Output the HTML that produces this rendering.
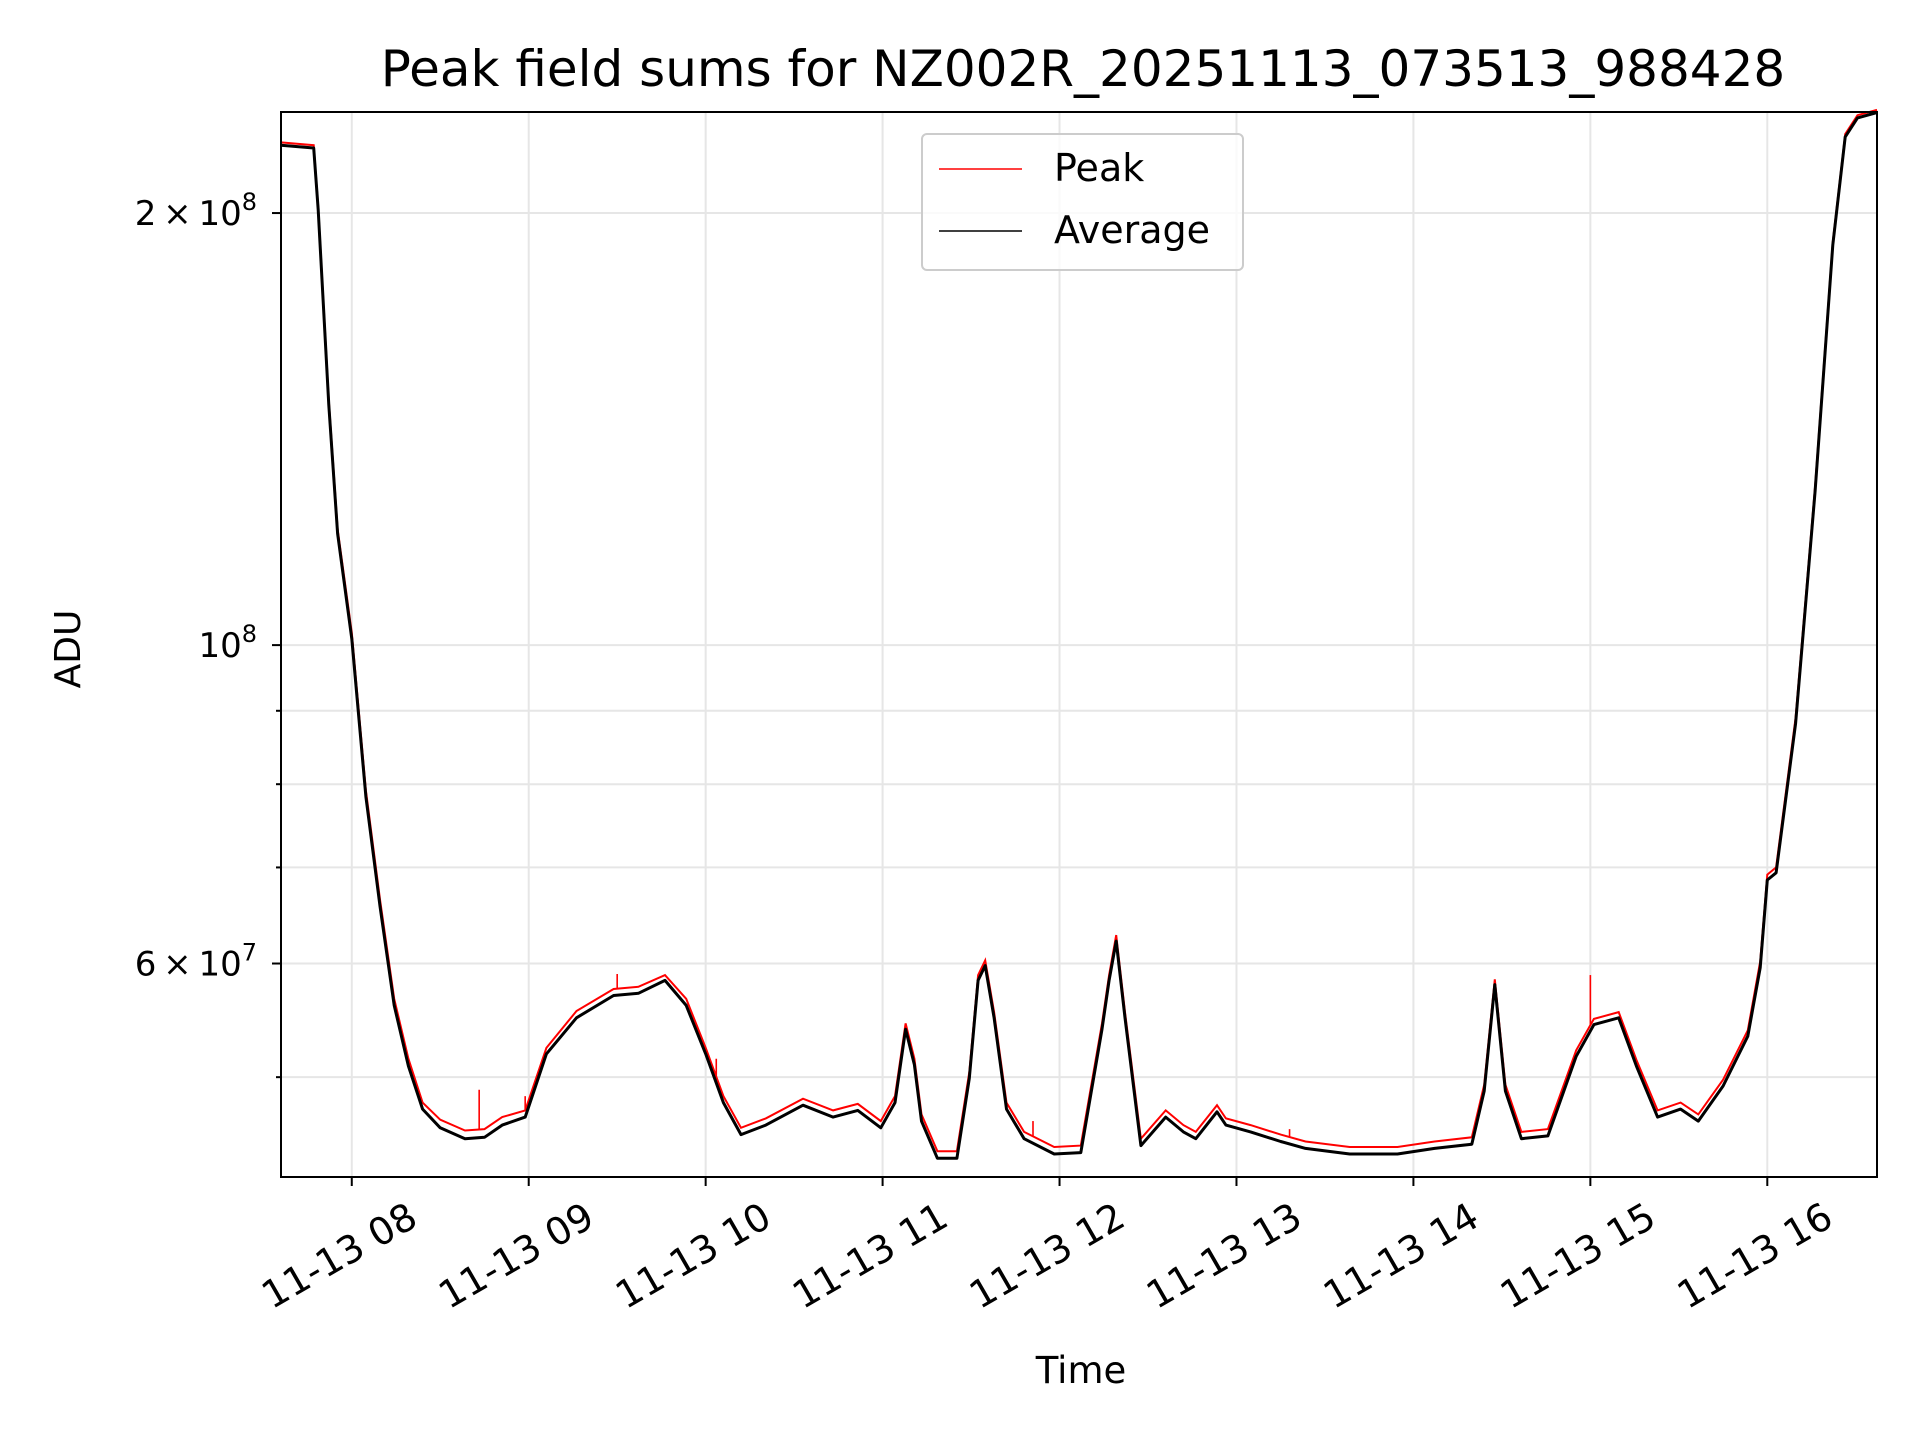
<!DOCTYPE html>
<html><head><meta charset="utf-8">
<style>
body{margin:0;background:#fff;}
svg{display:block;font-family:"DejaVu Sans","Liberation Sans",sans-serif;}
</style></head>
<body>
<svg id="chart" width="1920" height="1440" viewBox="0 0 1920 1440">
<rect width="1920" height="1440" fill="#fff"/>
<g id="grid"></g>
<g id="series"></g>
<rect x="281" y="112" width="1596" height="1065" fill="none" stroke="#000" stroke-width="2"/>
<g id="axes"></g>
<text x="1083" y="86" font-size="50" text-anchor="middle">Peak field sums for NZ002R_20251113_073513_988428</text>
<text x="1081" y="1383" font-size="37" text-anchor="middle">Time</text>
<text x="0" y="0" font-size="36" text-anchor="middle" transform="translate(80,649) rotate(-90)">ADU</text>
<g>
<rect x="922" y="134" width="321" height="136" rx="5" fill="#fff" fill-opacity="0.8" stroke="#ccc" stroke-width="2"/>
<line x1="939" y1="169" x2="1022" y2="169" stroke="#f00" stroke-width="1.5"/>
<text x="1054" y="181" font-size="38">Peak</text>
<line x1="939" y1="231" x2="1022" y2="231" stroke="#000" stroke-width="1.5"/>
<text x="1054" y="243" font-size="38">Average</text>
</g>
</svg>
<script>
const times=[7.6,7.785,7.81,7.87,7.92,8.0,8.08,8.16,8.24,8.32,8.40,8.5,8.64,8.75,8.85,8.98,9.1,9.27,9.48,9.62,9.77,9.89,10.0,10.1,10.2,10.34,10.55,10.72,10.86,10.99,11.07,11.13,11.18,11.22,11.31,11.42,11.49,11.54,11.58,11.63,11.70,11.80,11.97,12.12,12.24,12.28,12.32,12.37,12.46,12.6,12.70,12.77,12.89,12.94,13.08,13.25,13.39,13.64,13.91,14.12,14.33,14.40,14.46,14.52,14.61,14.76,14.92,15.02,15.16,15.26,15.38,15.51,15.61,15.75,15.89,15.96,16.0,16.05,16.16,16.27,16.37,16.44,16.51,16.62];
const avgValues=[223,222,201,147,119.6,101,78.4,65.7,56.1,50.9,47.5,46.1,45.3,45.4,46.3,46.9,51.9,55.0,57.0,57.2,58.4,56.1,51.9,48.0,45.6,46.3,47.8,46.9,47.4,46.1,48.0,54.0,51.0,46.6,43.9,43.9,49.9,58.4,59.8,55.0,47.5,45.3,44.2,44.3,54.0,58.4,62.2,55.0,44.8,46.9,45.8,45.3,47.3,46.3,45.8,45.1,44.6,44.2,44.2,44.6,44.9,48.9,58.0,48.9,45.3,45.5,51.7,54.4,55.0,50.9,46.9,47.5,46.6,49.3,53.4,59.6,68.6,69.4,88.2,128,190,226,233,235];
const peakValues=[224,223,202,148,120.5,102,79.2,66.4,56.7,51.5,48.0,46.7,45.9,46.0,46.9,47.4,52.4,55.6,57.6,57.8,58.9,56.7,52.4,48.5,46.1,46.8,48.3,47.4,47.9,46.6,48.5,54.5,51.5,47.1,44.4,44.4,50.4,58.9,60.3,55.5,48.0,45.8,44.7,44.8,54.5,58.9,62.8,55.5,45.3,47.4,46.3,45.8,47.8,46.8,46.3,45.6,45.1,44.7,44.7,45.1,45.4,49.4,58.5,49.4,45.8,46.0,52.2,54.9,55.5,51.4,47.4,48.0,47.1,49.8,53.9,60.2,69.2,70.0,89.0,129,191,227,234,236];
const spikeTimes=[8.72,8.98,9.5,10.06,11.85,13.3,15.0];
const spikeValues=[49.0,48.5,59.0,51.5,46.6,46.0,58.9];
const hourTicks=[8,9,10,11,12,13,14,15,16];
const hourLabels=["11-13 08","11-13 09","11-13 10","11-13 11","11-13 12","11-13 13","11-13 14","11-13 15","11-13 16"];
const majorTicks=[200,100,60];
const minorTicks=[50,70,80,90];
const NS="http://www.w3.org/2000/svg";
const X0=281,X1=1877,Y0=112,Y1=1177,T0=7.6,T1=16.62,VMIN=42.6,VMAX=235.2;
function xs(t){return X0+(t-T0)/(T1-T0)*(X1-X0);}
function ys(v){return Y1-(Math.log10(v)-Math.log10(VMIN))/(Math.log10(VMAX)-Math.log10(VMIN))*(Y1-Y0);}
function mk(tag,attrs,parent){const e=document.createElementNS(NS,tag);for(const k in attrs)e.setAttribute(k,attrs[k]);parent.appendChild(e);return e;}
const grid=document.getElementById('grid'),axes=document.getElementById('axes'),series=document.getElementById('series');
hourTicks.forEach((h,i)=>{const x=xs(h);
 const g=mk('line',{x1:x,x2:x,y1:Y0,y2:Y1,stroke:'#e6e6e6','stroke-width':2},grid);
 
 
 const t=mk('line',{x1:x,x2:x,y1:Y1,y2:Y1+9,stroke:'#000','stroke-width':2},axes);
 
 
 const l=mk('text',{x:0,y:0,'font-size':38,'text-anchor':'middle',transform:`translate(${x-6},${Y1+90}) rotate(-30)`},axes);
 l.textContent=hourLabels[i];
 
 
});
majorTicks.concat(minorTicks).forEach(v=>{const y=ys(v);
 const g=mk('line',{x1:X0,x2:X1,y1:y,y2:y,stroke:'#e6e6e6','stroke-width':2},grid);
 
 
 const major=majorTicks.includes(v);
 const t=mk('line',{x1:X0-(major?9:5),x2:X0,y1:y,y2:y,stroke:'#000','stroke-width':2},axes);
 
 
});
const ylab=[[200,'2\u2009\u00d7\u200910','8'],[100,'10','8'],[60,'6\u2009\u00d7\u200910','7']];
ylab.forEach(([v,base,exp])=>{const y=ys(v);
 const t=mk('text',{x:X0-24,y:y+12,'font-size':34,'text-anchor':'end'},axes);
 const b=mk('tspan',{},t);b.textContent=base;
 const s=mk('tspan',{dy:-15,'font-size':24},t);s.textContent=exp;
 
 
});
function pathOf(vals){return times.map((t,i)=>(i?'L':'M')+xs(t).toFixed(1)+','+ys(vals[i]).toFixed(1)).join(' ');}
const pk=mk('path',{d:pathOf(peakValues),fill:'none',stroke:'#f00','stroke-width':2},series);


spikeTimes.forEach((t,i)=>{
 let j=0;while(j<times.length-1&&times[j+1]<t)j++;
 const f=(t-times[j])/(times[j+1]-times[j]);
 const base=peakValues[j]+(peakValues[j+1]-peakValues[j])*f;
 const s=mk('line',{x1:xs(t),x2:xs(t),y1:ys(base),y2:ys(spikeValues[i]),stroke:'#f00','stroke-width':1.6},series);
 
 
});
const av=mk('path',{d:pathOf(avgValues),fill:'none',stroke:'#000','stroke-width':3,'stroke-linejoin':'round'},series);


</script>
</body></html>
